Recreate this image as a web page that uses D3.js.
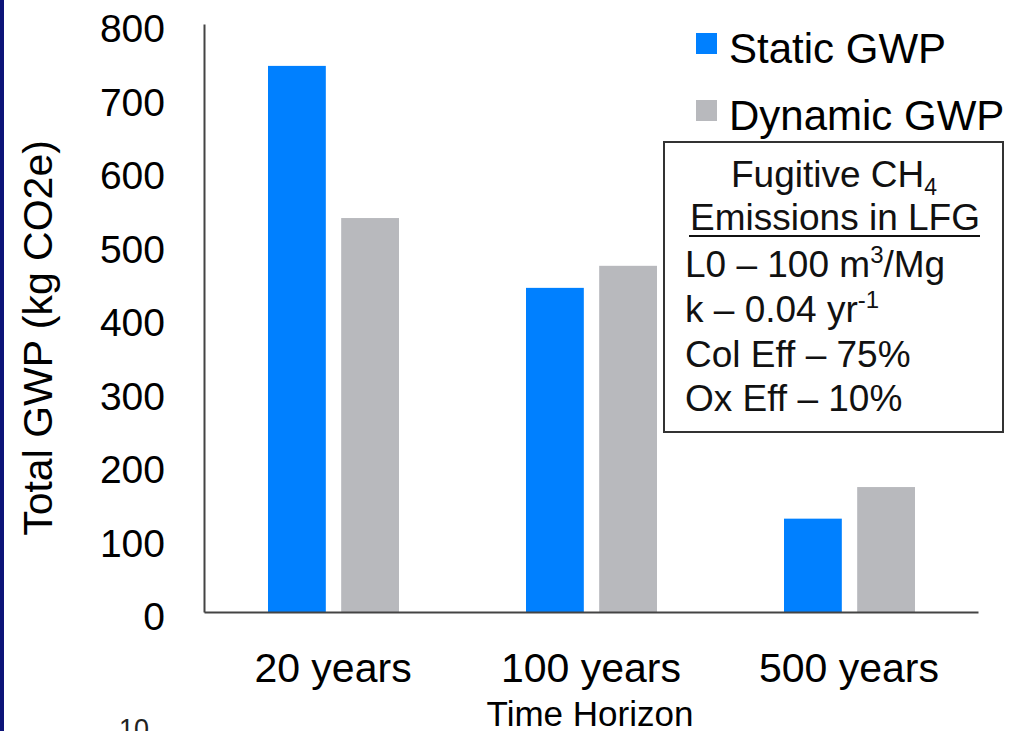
<!DOCTYPE html>
<html>
<head>
<meta charset="utf-8">
<script src="https://cdn.jsdelivr.net/npm/d3@7"></script>
<style>
  html, body { margin: 0; padding: 0; background: #fff; }
  svg { display: block; font-family: "Liberation Sans", Arial, sans-serif; }
</style>
</head>
<body>
<div id="chart"></div>
<script>
// Data
const categories = ["20 years", "100 years", "500 years"];
const seriesNames = ["Static GWP", "Dynamic GWP"];
const staticGWP = [743, 441, 127];
const dynamicGWP = [536, 471, 170];
const yTicks = [0, 100, 200, 300, 400, 500, 600, 700, 800];
const boxLines = [
  ["L0 \u2013 100 m", "3", "/Mg"],
  ["k \u2013 0.04 yr", "-1", ""],
  ["Col Eff \u2013 75%", "", ""],
  ["Ox Eff \u2013 10%", "", ""]
];

const colors = { "Static GWP": "#0080ff", "Dynamic GWP": "#b8b9bd" };

const W = 1026, H = 731;
const margin = { top: 24, right: 48, bottom: 119, left: 204 };
const width = W - margin.left - margin.right;
const height = H - margin.top - margin.bottom;

const svg = d3.select("#chart").append("svg")
  .attr("width", W)
  .attr("height", H);

// dark slide edge on the left
svg.append("rect")
  .attr("x", 0).attr("y", 0)
  .attr("width", 4).attr("height", H)
  .attr("fill", "#0d1478");

const g = svg.append("g")
  .attr("transform", `translate(${margin.left},${margin.top})`);

// Scales
const x0 = d3.scaleBand()
  .domain(categories)
  .range([0, width])
  .padding(0);

const x1 = d3.scaleBand()
  .domain(seriesNames)
  .range([64, 195])
  .paddingInner(0.21);

const y = d3.scaleLinear()
  .domain([0, 800])
  .range([height, 0]);

const rows = categories.map((c, i) => ({
  category: c,
  values: [
    { series: "Static GWP", value: staticGWP[i] },
    { series: "Dynamic GWP", value: dynamicGWP[i] }
  ]
}));

// Bars
const groups = g.selectAll(".group")
  .data(rows)
  .enter().append("g")
  .attr("class", "group")
  .attr("transform", d => `translate(${x0(d.category)},0)`);

groups.selectAll("rect")
  .data(d => d.values)
  .enter().append("rect")
  .attr("x", d => x1(d.series))
  .attr("y", d => y(d.value))
  .attr("width", x1.bandwidth())
  .attr("height", d => height - y(d.value))
  .attr("fill", d => colors[d.series]);

// Y axis
const yAxis = g.append("g")
  .attr("class", "y-axis")
  .call(d3.axisLeft(y).tickValues(yTicks).tickSize(0).tickPadding(39));

yAxis.select(".domain")
  .attr("stroke", "#444")
  .attr("stroke-width", 2);

yAxis.selectAll("text")
  .attr("dy", "0.45em")
  .style("font-size", "39px")
  .style("font-family", "Liberation Sans, Arial, sans-serif")
  .style("fill", "#000");

// X axis
const xAxis = g.append("g")
  .attr("class", "x-axis")
  .attr("transform", `translate(0,${height})`)
  .call(d3.axisBottom(x0).tickSize(0).tickPadding(41));

xAxis.select(".domain")
  .attr("stroke", "#444")
  .attr("stroke-width", 2);

xAxis.selectAll("text")
  .attr("dy", "0.71em")
  .style("font-size", "41px")
  .style("font-family", "Liberation Sans, Arial, sans-serif")
  .style("fill", "#000");

// Axis titles
svg.append("text")
  .attr("transform", `translate(52,${338}) rotate(-90)`)
  .attr("text-anchor", "middle")
  .style("font-size", "41px")
  .style("fill", "#000")
  .text("Total GWP (kg CO2e)");

svg.append("text")
  .attr("x", 590)
  .attr("y", 726)
  .attr("text-anchor", "middle")
  .style("font-size", "35px")
  .style("fill", "#000")
  .text("Time Horizon");

// Legend
const legend = svg.append("g")
  .attr("transform", "translate(696,33)");

const legendItems = legend.selectAll(".legend-item")
  .data(seriesNames)
  .enter().append("g")
  .attr("class", "legend-item")
  .attr("transform", (d, i) => `translate(0,${i * 67})`);

legendItems.append("rect")
  .attr("width", 21)
  .attr("height", 21)
  .attr("fill", d => colors[d]);

legendItems.append("text")
  .attr("x", 33)
  .attr("y", 30)
  .style("font-size", "42px")
  .style("fill", "#000")
  .text(d => d);

// Parameter box
const box = svg.append("g");

box.append("rect")
  .attr("x", 664)
  .attr("y", 142)
  .attr("width", 339)
  .attr("height", 290)
  .attr("fill", "#fff")
  .attr("stroke", "#333")
  .attr("stroke-width", 2);

const title1 = box.append("text")
  .attr("x", 834)
  .attr("y", 187)
  .attr("text-anchor", "middle")
  .style("font-size", "37px")
  .style("fill", "#111");
title1.append("tspan").text("Fugitive CH");
title1.append("tspan")
  .attr("dy", 8)
  .style("font-size", "23px")
  .text("4");

box.append("text")
  .attr("x", 835)
  .attr("y", 230)
  .attr("text-anchor", "middle")
  .style("font-size", "37px")
  .style("fill", "#111")
  .text("Emissions in LFG");

box.append("line")
  .attr("x1", 689)
  .attr("x2", 980)
  .attr("y1", 236)
  .attr("y2", 236)
  .attr("stroke", "#111")
  .attr("stroke-width", 2);

boxLines.forEach((parts, i) => {
  const t = box.append("text")
    .attr("x", 685)
    .attr("y", 277 + i * 44.8)
    .style("font-size", "37px")
    .style("fill", "#111");
  t.append("tspan").text(parts[0]);
  if (parts[1]) {
    t.append("tspan")
      .attr("dy", -14)
      .style("font-size", "24px")
      .text(parts[1]);
    if (parts[2]) {
      t.append("tspan")
        .attr("dy", 14)
        .text(parts[2]);
    }
  }
});

// cut-off fragment of the next figure at the bottom edge
svg.append("text")
  .attr("x", 119)
  .attr("y", 738)
  .style("font-size", "27px")
  .style("fill", "#222")
  .text("10");
</script>
</body>
</html>
